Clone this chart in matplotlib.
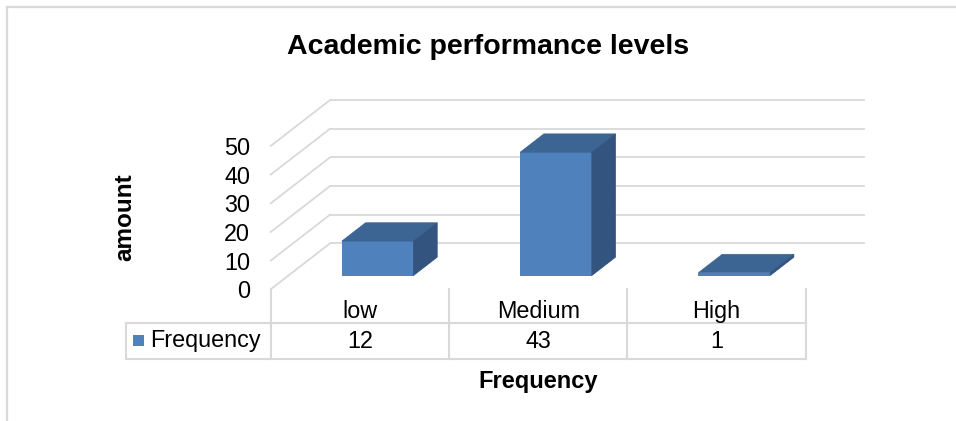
import matplotlib
matplotlib.use('Agg')
import matplotlib.pyplot as plt
from matplotlib.patches import Polygon, Rectangle
from matplotlib.lines import Line2D
import matplotlib.transforms as mtrans

# ---- data ----
categories = ['low', 'Medium', 'High']
frequency = [12, 43, 1]
series_name = 'Frequency'
y_ticks = [0, 10, 20, 30, 40, 50]
title = 'Academic performance levels'
y_title = 'amount'
x_title = 'Frequency'

# ---- style ----
W, H = 956, 421
plt.rcParams['font.family'] = ['Liberation Sans', 'DejaVu Sans']
FRONT = '#4f81bd'
TOP = '#3d6594'
SIDE = '#33547e'
GRID = '#d9d9d9'
BODY = 16.8

fig = plt.figure(figsize=(W / 100, H / 100), dpi=100)


def fx(px):
    return px / W


def fy(py):
    return 1 - py / H


# front plane of the 3D box (pixels)
X0, X1 = 270.7, 805.7
Y0 = 289.3
PX_PER_UNIT = 2.867
ncat = len(categories)
ymax = y_ticks[-1]
ax = fig.add_axes([fx(X0), fy(Y0), (X1 - X0) / W, ymax * PX_PER_UNIT / H])
ax.set_xlim(0, ncat)
ax.set_ylim(0, ymax)
for s in ax.spines.values():
    s.set_visible(False)
ax.set_xticks([])
ax.set_yticks(y_ticks)
ax.set_yticklabels([str(v) for v in y_ticks])
ax.tick_params(axis='y', length=0, pad=14.9, labelsize=BODY)
ax.patch.set_visible(False)

cat_px = (X1 - X0) / ncat
DXd = 59.3 / cat_px          # depth offset in data units
DYd = 45.9 / PX_PER_UNIT

# walls: back wall gridlines and side-wall diagonals
for v in y_ticks:
    ax.plot([DXd, ncat + DXd], [v + DYd, v + DYd], color=GRID, lw=1.3,
            clip_on=False, zorder=1, solid_capstyle='butt')
    ax.plot([0, DXd], [v, v + DYd], color=GRID, lw=1.3, clip_on=False, zorder=1)

# bars
t0, t1 = 0.3, 0.7
bw = 0.402
b = t0 * DYd
xs = [i + 0.5 + t0 * DXd for i in range(ncat)]
ax.bar(xs, frequency, width=bw, bottom=b, color=FRONT, clip_on=False, zorder=3,
       linewidth=0)
ddx = (t1 - t0) * DXd
ddy = (t1 - t0) * DYd
for xc, v in zip(xs, frequency):
    xa, xb = xc - bw / 2, xc + bw / 2
    top = Polygon([(xa, b + v), (xb, b + v), (xb + ddx, b + v + ddy), (xa + ddx, b + v + ddy)],
                  closed=True, facecolor=TOP, edgecolor=TOP, lw=0.5, clip_on=False, zorder=3)
    side = Polygon([(xb, b), (xb, b + v), (xb + ddx, b + v + ddy), (xb + ddx, b + ddy)],
                   closed=True, facecolor=SIDE, edgecolor=SIDE, lw=0.5, clip_on=False, zorder=3)
    ax.add_patch(top)
    ax.add_patch(side)

# ---- data table ----
bt = mtrans.blended_transform_factory(ax.transData, fig.transFigure)
T_TOP, T_MID, T_BOT = 289.3, 322.7, 359.0
left_px = 125.7
left_d = (left_px - X0) / cat_px
for i in range(ncat + 1):
    ax.add_line(Line2D([i, i], [fy(T_TOP), fy(T_BOT)], transform=bt, color=GRID,
                       lw=1.5, clip_on=False))
for yy in (T_MID, T_BOT):
    ax.add_line(Line2D([left_d, ncat], [fy(yy), fy(yy)], transform=bt, color=GRID,
                       lw=1.5, clip_on=False))
ax.add_line(Line2D([left_d, left_d], [fy(T_MID), fy(T_BOT)], transform=bt, color=GRID,
                   lw=1.5, clip_on=False))

for i, (c, v) in enumerate(zip(categories, frequency)):
    ax.text(i + 0.5, fy(318.3), c, transform=bt, ha='center', va='baseline',
            fontsize=BODY, color='black')
    ax.text(i + 0.5, fy(347.5), str(v), transform=bt, ha='center', va='baseline',
            fontsize=BODY, color='black')

# legend key + row label
fig.add_artist(Rectangle((fx(133.3), fy(346)), 11 / W, 11 / H, transform=fig.transFigure,
                         facecolor=FRONT, edgecolor='none'))
fig.text(fx(150.5), fy(347.5), series_name, ha='left', va='baseline', fontsize=BODY)

# titles
fig.text(fx(488), fy(47), title, ha='center', va='center', fontsize=20.5, fontweight='bold')
fig.text(fx(125), fy(217.5), y_title, ha='center', va='center', rotation=90,
         fontsize=17.5, fontweight='bold')
fig.text(fx(538), fy(388), x_title, ha='center', va='baseline', fontsize=17,
         fontweight='bold')

# chart border (top and left visible)
fig.add_artist(Line2D([fx(7.3), 1], [fy(7.3), fy(7.3)], transform=fig.transFigure,
                      color=GRID, lw=1.6))
fig.add_artist(Line2D([fx(7.3), fx(7.3)], [fy(7.3), 0], transform=fig.transFigure,
                      color=GRID, lw=1.6))

fig.savefig('out.png', dpi=100, facecolor='white')
